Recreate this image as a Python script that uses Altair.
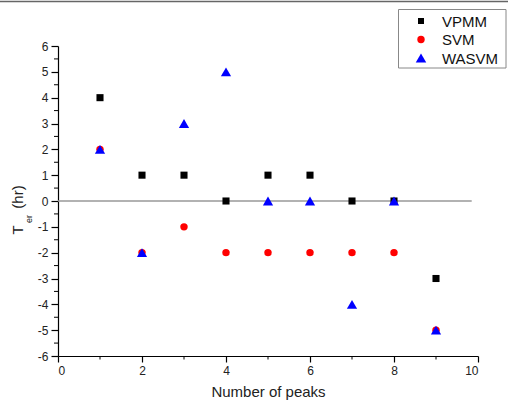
import altair as alt
import pandas as pd

peaks = [1, 2, 3, 4, 5, 6, 7, 8, 9]
vpmm = [4, 1, 1, 0, 1, 1, 0, 0, -3]
svm = [2, -2, -1, -2, -2, -2, -2, -2, -5]
wasvm = [2, -2, 3, 5, 0, 0, -4, 0, -5]
series_names = ["VPMM", "SVM", "WASVM"]
series_colors = ["#000000", "#ff0000", "#0000ff"]
series_shapes = ["square", "circle", "triangle-up"]
series_sizes = [50, 55, 105]
legend_sizes = [36, 55, 110]
x_ticks = [0, 2, 4, 6, 8, 10]
x_minor = [1, 3, 5, 7, 9]
y_ticks = list(range(-6, 7))
y_minor = [v + 0.5 for v in range(-6, 6)]

rows = []
for name, vals in zip(series_names, [vpmm, svm, wasvm]):
    for p, v in zip(peaks, vals):
        rows.append({"peaks": p, "ter": v, "series": name})
df = pd.DataFrame(rows)

xscale = alt.Scale(domain=[0, 10], nice=False, zero=False)
yscale = alt.Scale(domain=[-6, 6], nice=False, zero=False)
xaxis = alt.Axis(values=x_ticks, title="Number of peaks", grid=False,
                 tickSize=6, labelPadding=3, titlePadding=8, labelOverlap=False,
                 labelExpr="'' + datum.value")
yaxis = alt.Axis(values=y_ticks, title=None, grid=False, labelOverlap=False,
                 labelExpr="'' + datum.value", tickSize=7, labelPadding=3)

point_layers = []
for name, col, shp, sz in zip(series_names, series_colors, series_shapes, series_sizes):
    point_layers.append(
        alt.Chart(df).transform_filter(alt.datum.series == name).mark_point(
            filled=True, opacity=1, shape=shp, color=col, size=sz
        ).encode(
            x=alt.X("peaks:Q", scale=xscale, axis=xaxis),
            y=alt.Y("ter:Q", scale=yscale, axis=yaxis),
        )
    )

zero_df = pd.DataFrame({"peaks": [0], "x2": [9.85], "ter": [0]})
zero_line = alt.Chart(zero_df).mark_rule(color="#999999", strokeWidth=1.5).encode(
    x=alt.X("peaks:Q", scale=xscale, axis=xaxis), x2="x2:Q",
    y=alt.Y("ter:Q", scale=yscale, axis=yaxis)
)

ym = alt.Chart(pd.DataFrame({"ter": y_minor})).mark_rule(color="#000000", strokeWidth=1).encode(
    y=alt.Y("ter:Q", scale=yscale, axis=yaxis), x=alt.value(-4), x2=alt.value(0)
)
xm = alt.Chart(pd.DataFrame({"peaks": x_minor})).mark_rule(color="#000000", strokeWidth=1).encode(
    x=alt.X("peaks:Q", scale=xscale, axis=xaxis), y=alt.value(310), y2=alt.value(313.5)
)

def txt(s, size, x, y):
    return alt.Chart(pd.DataFrame({"t": [s]})).mark_text(
        angle=270, fontSize=size, font="Liberation Sans", color="#222222",
        baseline="middle", align="center"
    ).encode(text="t:N", x=alt.value(x), y=alt.value(y))

t_main = txt("T", 15, -40, 184)
t_sub = txt("er", 9, -29, 173)
t_unit = txt("(hr)", 15, -40, 151)

top_line = alt.Chart(pd.DataFrame({"a": [0]})).mark_rule(color="#666666", strokeWidth=1.5).encode(
    x=alt.value(-58), x2=alt.value(450), y=alt.value(-44.5)
)

# legend (box, symbols, labels)
leg_box = alt.Chart(pd.DataFrame({"a": [0]})).mark_rect(
    fill="white", stroke="#888888", strokeWidth=1
).encode(x=alt.value(340.5), x2=alt.value(448), y=alt.value(-36.5), y2=alt.value(22))

leg_layers = []
leg_y = [-25, -6.5, 12]
for name, col, shp, sz, yy in zip(series_names, series_colors, series_shapes, legend_sizes, leg_y):
    leg_layers.append(
        alt.Chart(pd.DataFrame({"series": [name]})).mark_point(filled=True, opacity=1, size=sz).encode(
            x=alt.value(363), y=alt.value(yy),
            color=alt.value(col), shape=alt.value(shp)
        )
    )
    leg_layers.append(
        alt.Chart(pd.DataFrame({"series": [name]})).mark_text(
            align="left", baseline="middle", fontSize=15, font="Liberation Sans", color="#111111"
        ).encode(x=alt.value(384), y=alt.value(yy + 0.5), text="series:N")
    )

chart = alt.layer(zero_line, ym, xm, *point_layers, t_main, t_sub, t_unit, top_line, leg_box, *leg_layers).properties(
    width=420, height=310,
    autosize=alt.AutoSizeParams(type="none"),
    padding={"left": 58, "top": 46, "right": 35, "bottom": 53},
    background="white",
).configure_view(stroke=None).configure_axis(
    domainColor="#000000", tickColor="#000000", labelFontSize=12, labelFont="Liberation Sans",
    labelColor="#222222", titleFontSize=15, titleFont="Liberation Sans", titleColor="#222222",
    titleFontWeight="normal", domainWidth=1.2, tickWidth=1.2
)

chart.save("out.html", embed_options={"renderer": "svg", "actions": False})
